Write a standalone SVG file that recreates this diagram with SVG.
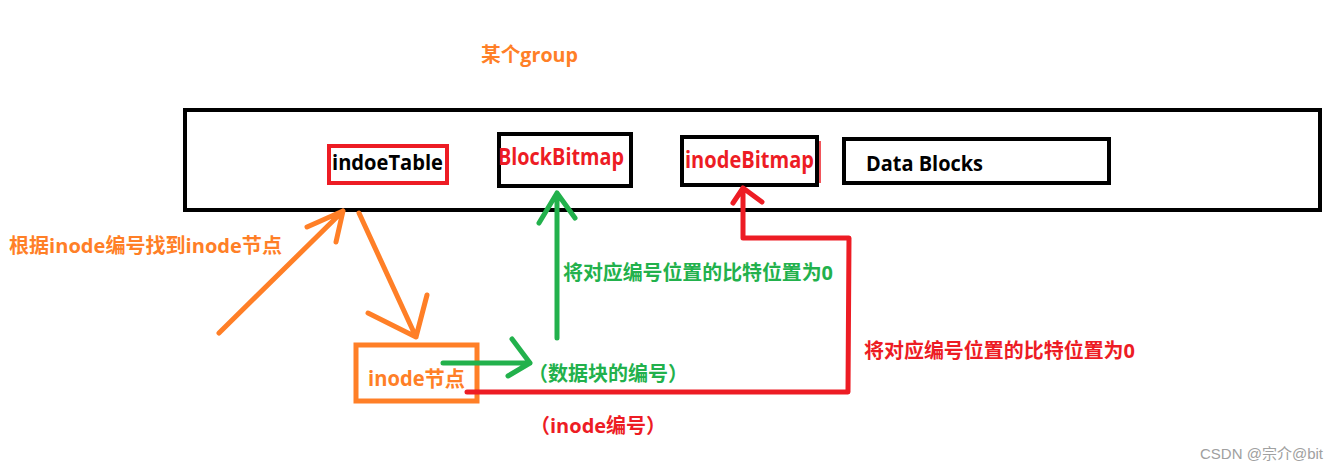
<svg xmlns="http://www.w3.org/2000/svg" width="1338" height="471" viewBox="0 0 1338 471">
<style>
.t{font-family:"Open Sans","Noto Sans CJK SC",sans-serif;font-weight:bold;}
.box{fill:none;stroke:#000;stroke-width:4;}
.o{stroke:#ff7f27;}
.r{stroke:#ed1c24;}
.g{stroke:#22b14c;}
.ln{fill:none;stroke-width:5;stroke-linecap:round;stroke-linejoin:round;}
</style>
<rect width="1338" height="471" fill="#fff"/>
<g id="group-title"><text class="t" x="481" y="62" font-size="20" fill="#ff7f27" textLength="97" lengthAdjust="spacingAndGlyphs">某个group</text></g>
<g id="group-box"><rect class="box" x="185" y="110" width="1135" height="100"/></g>
<g id="indoeTable">
<rect x="329" y="146" width="118" height="37" fill="none" stroke="#ed1c24" stroke-width="4"/>
<text class="t" x="332" y="170" font-size="22" fill="#000" textLength="111" lengthAdjust="spacingAndGlyphs">indoeTable</text>
</g>
<g id="BlockBitmap">
<rect class="box" x="499" y="134" width="132" height="52"/>
<text class="t" x="498" y="165" font-size="24" fill="#ed1c24" textLength="126" lengthAdjust="spacingAndGlyphs">BlockBitmap</text>
</g>
<g id="inodeBitmap">
<rect class="box" x="682" y="137" width="135" height="48"/>
<line x1="820" y1="141" x2="820" y2="183" stroke="#ed1c24" stroke-width="1.5"/>
<text class="t" x="685" y="168" font-size="23" fill="#ed1c24" textLength="129" lengthAdjust="spacingAndGlyphs">inodeBitmap</text>
</g>
<g id="DataBlocks">
<rect class="box" x="844" y="139" width="265" height="44"/>
<text class="t" x="866" y="171" font-size="22" fill="#000" textLength="117" lengthAdjust="spacingAndGlyphs">Data Blocks</text>
</g>
<g id="inode-node">
<rect x="356" y="345" width="121" height="56" fill="none" stroke="#ff7f27" stroke-width="5"/>
<text class="t" x="368" y="386" font-size="21" fill="#ff7f27" textLength="97" lengthAdjust="spacingAndGlyphs">inode节点</text>
</g>
<g id="connectors">
<path class="ln o" d="M219,333 L343,211 M307,227 L343,211 L336,242"/>
<path class="ln o" d="M359,213 L416,337 M368,313 L416,337 L427,295"/>
<path class="ln g" d="M443,363 L530,363 M512,339 L530,363 L508,376"/>
<path class="ln g" d="M557,338 L557,193 M539,223 L557,193 L575,218"/>
<path class="ln r" d="M467,392 L848,392 L849,238 L743,238 L743,188 M733,203 L743,188 L762,202"/>
</g>
<g id="labels">
<text class="t" x="9" y="253" font-size="20" fill="#ff7f27" textLength="273" lengthAdjust="spacingAndGlyphs">根据inode编号找到inode节点</text>
<text class="t" x="563" y="280" font-size="20" fill="#22b14c" textLength="270" lengthAdjust="spacingAndGlyphs">将对应编号位置的比特位置为0</text>
<text class="t" x="528" y="381" font-size="20" fill="#22b14c">（数据块的编号）</text>
<text class="t" x="864" y="358" font-size="20" fill="#ed1c24" textLength="271" lengthAdjust="spacingAndGlyphs">将对应编号位置的比特位置为0</text>
<text class="t" x="530" y="433" font-size="20" fill="#ed1c24">（inode编号）</text>
</g>
<g id="watermark"><text x="1200" y="459" font-family="'Liberation Sans','Noto Sans CJK SC',sans-serif" font-size="15" fill="#a0a0a0" textLength="123" lengthAdjust="spacingAndGlyphs">CSDN @宗介@bit</text></g>
</svg>
